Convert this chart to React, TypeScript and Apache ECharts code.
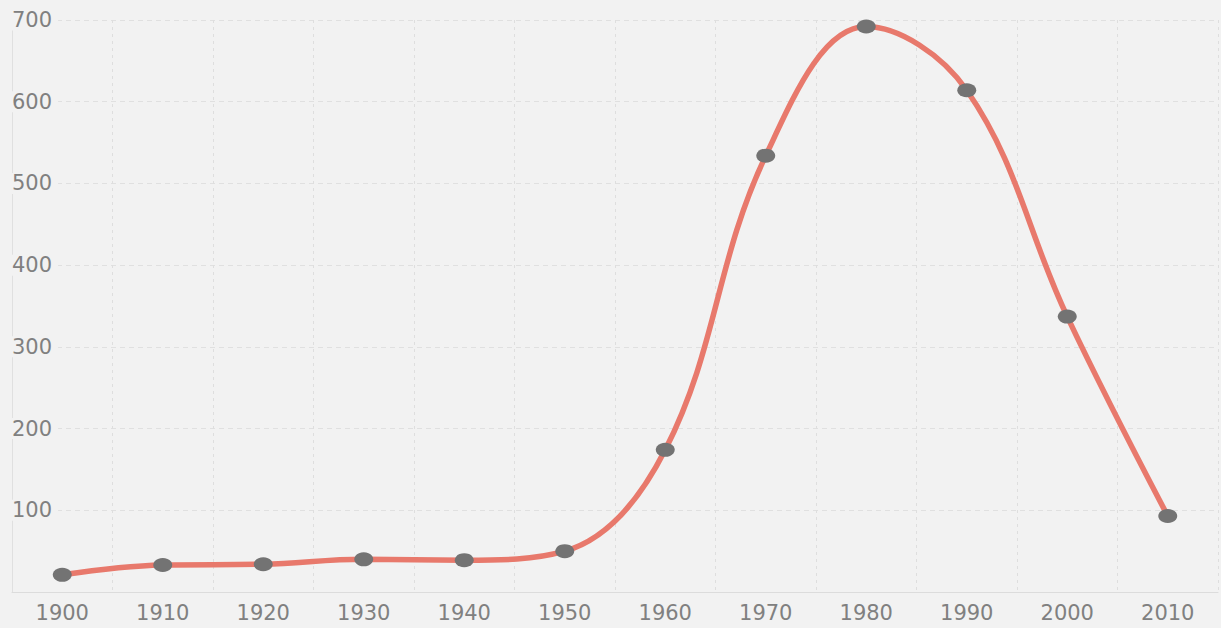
import React, { useEffect, useRef } from "react";
import * as echarts from "echarts";

const years = ["1900", "1910", "1920", "1930", "1940", "1950", "1960", "1970", "1980", "1990", "2000", "2010"];
const values = [21, 33, 34, 40, 39, 50, 174, 534, 692, 614, 337, 93];
const yTicks = { min: 0, max: 700, interval: 100 };

export default function App() {
  const ref = useRef<HTMLDivElement>(null);
  useEffect(() => {
    if (!ref.current) return;
    const chart = echarts.init(ref.current, undefined, { renderer: "svg" });
    chart.setOption({
      animation: false,
      backgroundColor: "#f2f2f2",
      grid: { left: 12, right: 3, top: 20, bottom: 36, containLabel: false },
      xAxis: {
        type: "category",
        data: years,
        boundaryGap: true,
        axisLine: { show: true, lineStyle: { color: "#dcdcdc", width: 1 } },
        axisTick: { show: false },
        axisLabel: {
          color: "#808080",
          fontFamily: "DejaVu Sans",
          fontSize: 21,
          margin: 10,
          interval: 0,
        },
        splitLine: { show: true, lineStyle: { color: "#dedede", type: [3, 4], width: 1 } },
      },
      yAxis: {
        type: "value",
        min: yTicks.min,
        max: yTicks.max,
        interval: yTicks.interval,
        axisLine: { show: true, lineStyle: { color: "#e0e0e0", width: 1 } },
        axisTick: { show: false },
        axisLabel: {
          inside: true,
          margin: 0,
          color: "#808080",
          fontFamily: "DejaVu Sans",
          fontSize: 21,
          backgroundColor: "#f2f2f2",
          padding: [0, 6, 0, 0],
          formatter: (v: number) => (v === 0 ? "" : String(v)),
        },
        splitLine: { show: true, lineStyle: { color: "#e0e0e0", type: [5, 4], width: 1 } },
      },
      series: [
        {
          type: "line",
          data: values,
          smooth: 0.38,
          symbol: "circle",
          symbolSize: [19, 14],
          showSymbol: true,
          lineStyle: { color: "#e8796c", width: 5.5 },
          itemStyle: { color: "#737373", borderWidth: 0 },
          z: 3,
        },
      ],
    });
    return () => chart.dispose();
  }, []);
  return (
    <div
      ref={ref}
      style={{ position: "fixed", left: 0, top: 0, width: 1221, height: 628 }}
    />
  );
}
